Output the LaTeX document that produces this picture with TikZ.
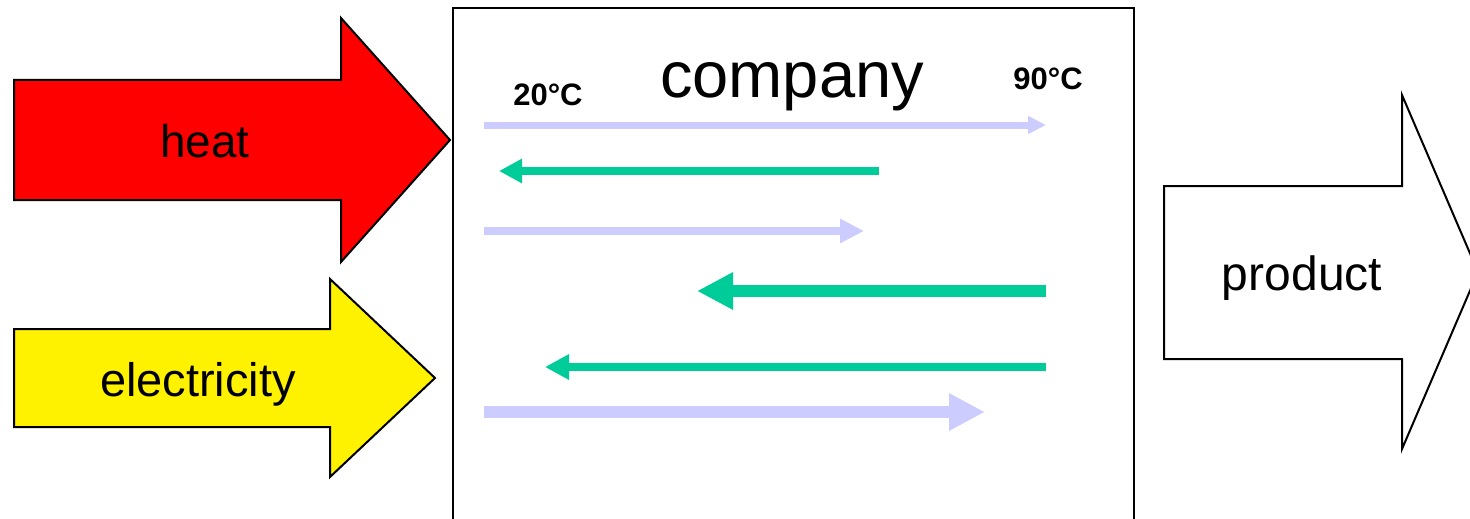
\documentclass[tikz,border=0pt]{standalone}
\usepackage{fontspec}
\setmainfont{Liberation Sans}
\usetikzlibrary{arrows.meta}
\definecolor{hot}{HTML}{CCCCFF}
\definecolor{cold}{HTML}{00CC99}

\begin{document}
\begin{tikzpicture}[
    x=1pt,y=-1pt,
    block/.style={draw,line width=2pt,line join=miter,fill=#1},
    lbl/.style={anchor=base,inner sep=0pt,font=\fontsize{#1}{#1}\selectfont},
    temp/.style={anchor=base,inner sep=0pt,font=\fontsize{31}{31}\selectfont\bfseries},
    stream/.style={line width=#1},
]
\useasboundingbox (0,0) rectangle (1470,519);
\clip (0,0) rectangle (1470,519);

% Inputs
\draw[block=red] (14,80) -- (341,80) -- (341,18) -- (450,140) -- (341,262) -- (341,200) -- (14,200) -- cycle;
\node[lbl=46] (heat) at (205,157) {heat};
\draw[block=yellow] (14,329) -- (330,329) -- (330,279) -- (435,378) -- (330,477) -- (330,427) -- (14,427) -- cycle;
\node[lbl=47] (elec) at (198,396) {electricity};

% Company
\draw[line width=2pt] (453,540) -- (453,8) -- (1134,8) -- (1134,540);
\node[lbl=65] (company) at (792,97) {company};
\node[temp] (tlow) at (548,105) {20°C};
\node[temp] (thigh) at (1048,89) {90°C};

% Hot and cold streams
\draw[stream=7pt,hot,-{Triangle[length=18pt,width=17pt]}] (484,125) -- (1046,125);
\draw[stream=8pt,cold,-{Triangle[length=23pt,width=23pt]}] (879,171) -- (499,171);
\draw[stream=8pt,hot,-{Triangle[length=24pt,width=23pt]}] (484,231) -- (864,231);
\draw[stream=12pt,cold,-{Triangle[length=36pt,width=35pt]}] (1046,291) -- (697,291);
\draw[stream=8pt,cold,-{Triangle[length=24pt,width=24pt]}] (1046,367) -- (545,367);
\draw[stream=12pt,hot,-{Triangle[length=36pt,width=35pt]}] (484,412) -- (985,412);

% Output
\draw[block=white] (1164,186) -- (1402,186) -- (1402,95) -- (1478,272) -- (1402,449) -- (1402,359) -- (1164,359) -- cycle;
\node[lbl=48] (product) at (1302,290) {product};
\end{tikzpicture}
\end{document}
